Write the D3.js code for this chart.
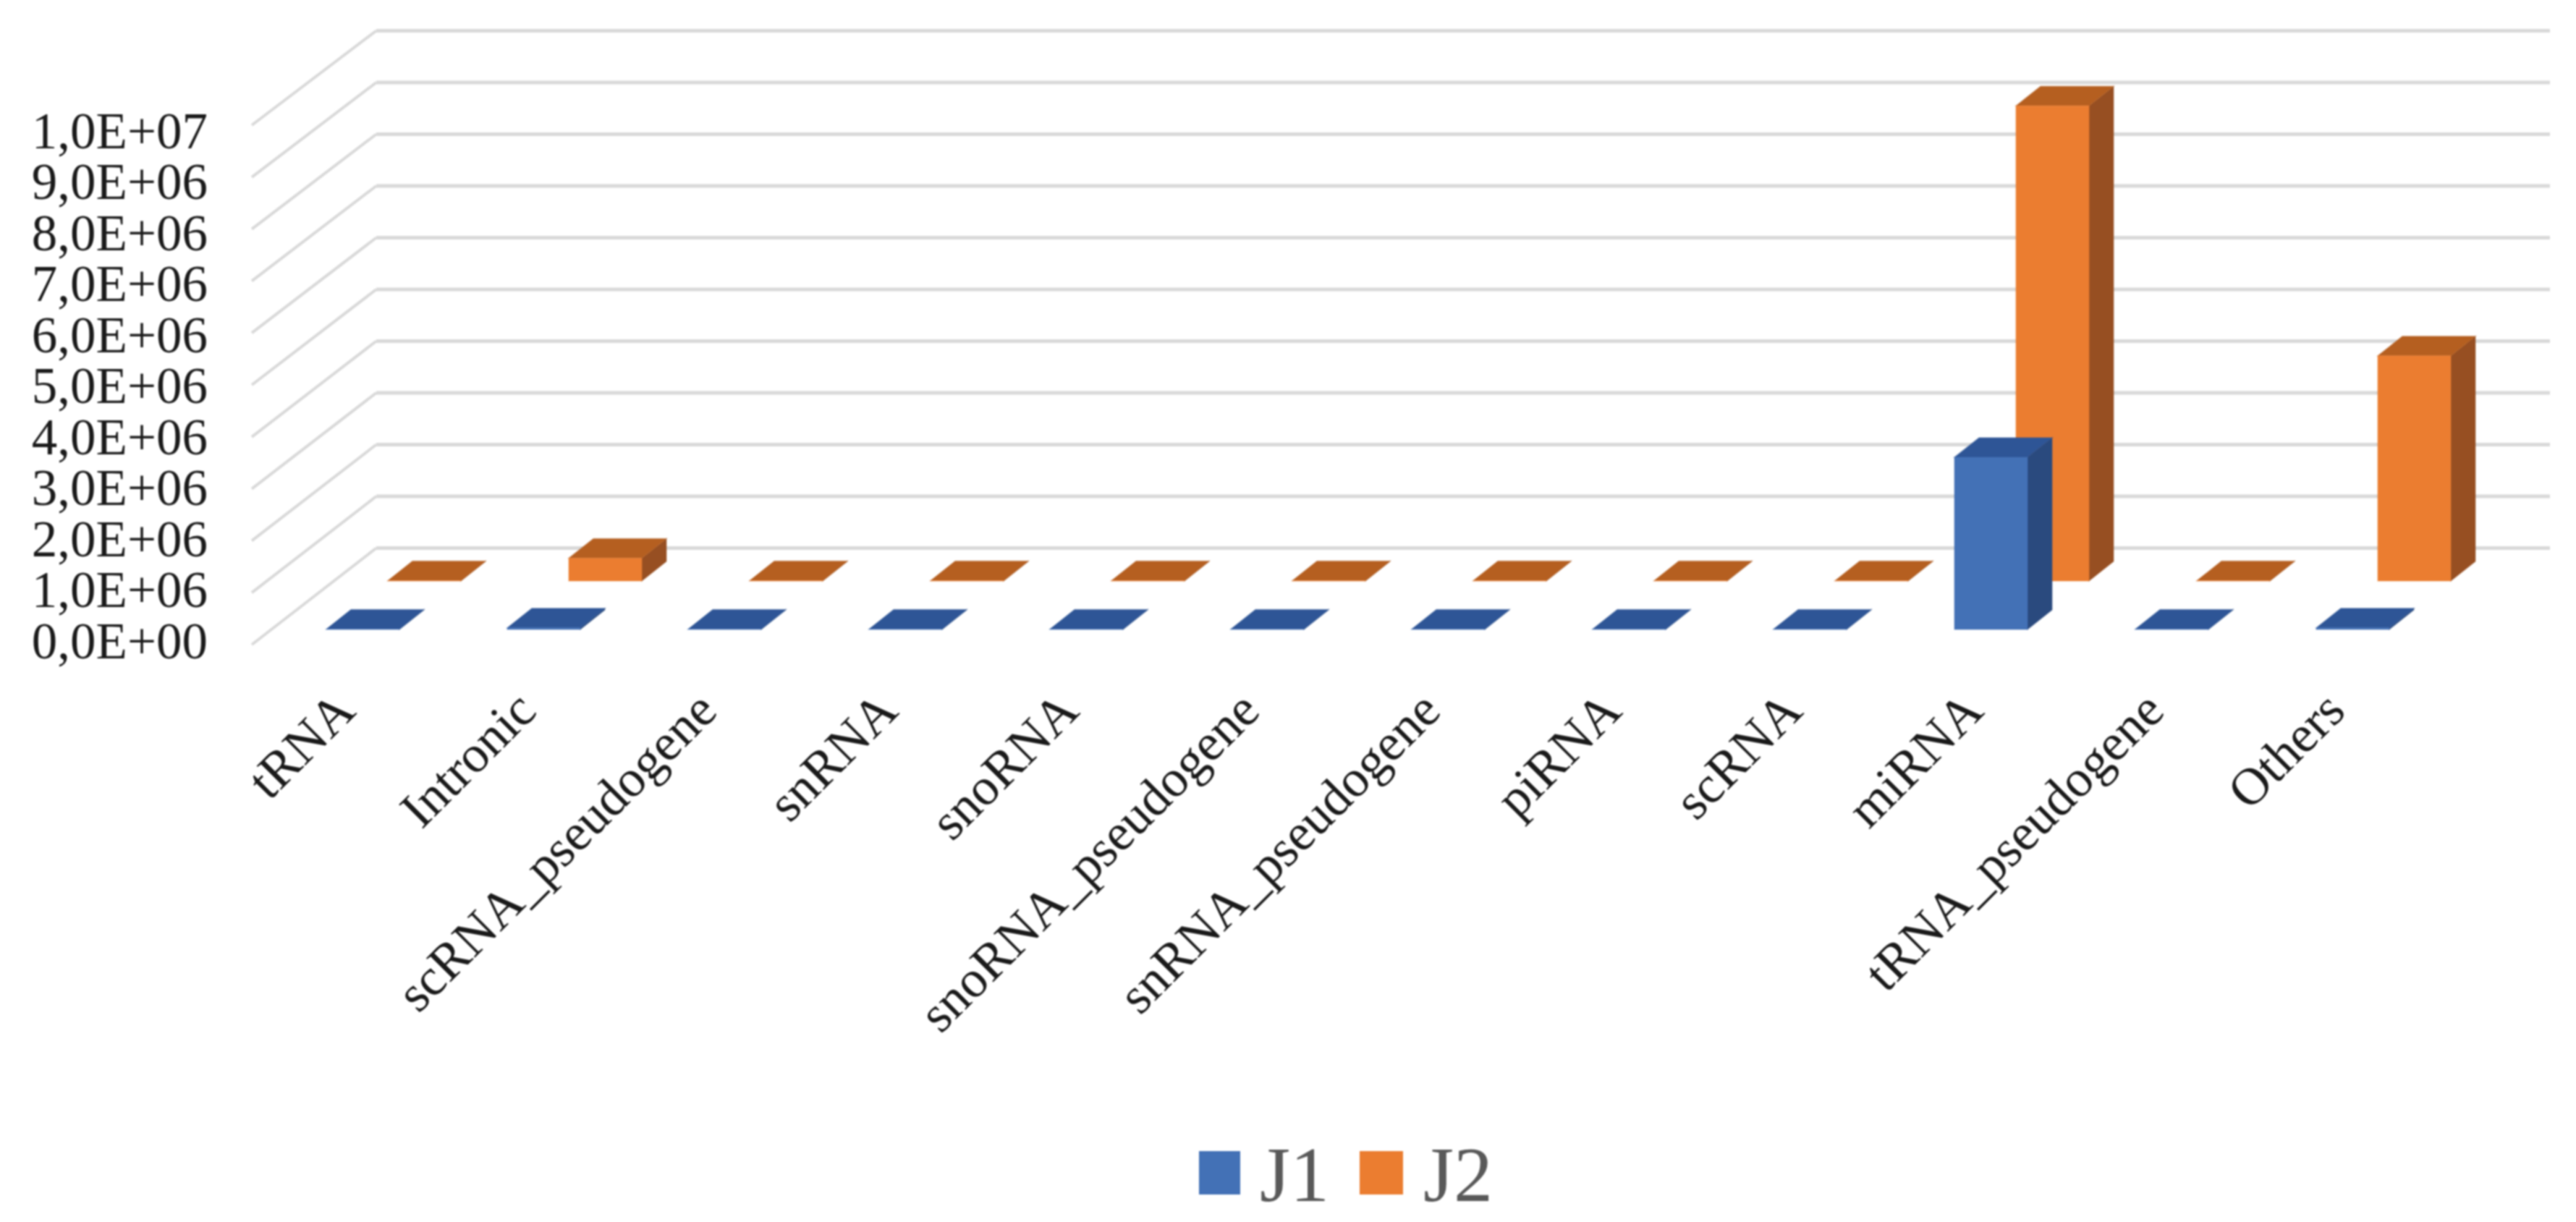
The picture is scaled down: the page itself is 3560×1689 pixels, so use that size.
<!DOCTYPE html>
<html><head><meta charset="utf-8">
<script src="https://cdn.jsdelivr.net/npm/d3@7/dist/d3.min.js"></script>
<style>html,body{margin:0;padding:0;background:#fff}svg{display:block;filter:blur(0.9px)}text{font-family:"Liberation Serif",serif}</style>
</head><body><svg id="c" width="3560" height="1689"></svg>
<script>
const categories = ["tRNA","Intronic","scRNA_pseudogene","snRNA","snoRNA","snoRNA_pseudogene","snRNA_pseudogene","piRNA","scRNA","miRNA","tRNA_pseudogene","Others"];
const seriesNames = ["J1","J2"];
const valuesJ1 = [6000,30000,6000,6000,6000,6000,6000,6000,6000,3320000,6000,30000];
const valuesJ2 = [6000,440000,6000,6000,6000,6000,6000,6000,6000,9160000,6000,4340000];
const tickValues = [0,1e6,2e6,3e6,4e6,5e6,6e6,7e6,8e6,9e6,1e7];
const tickLabels = ["0,0E+00","1,0E+06","2,0E+06","3,0E+06","4,0E+06","5,0E+06","6,0E+06","7,0E+06","8,0E+06","9,0E+06","1,0E+07"];

const svg = d3.select("#c");
const colors = {J1:{front:"#4371B6",top:"#2E5596",side:"#2A4A7E"},J2:{front:"#EB7D30",top:"#B55F20",side:"#974F22"}};

// Scales
const x = d3.scaleBand(categories,[419,3419]);
const seriesX = d3.scaleOrdinal(seriesNames,[32,117]);
const barW = 101, depthX = 34, depthY = 27;
const h = d3.scaleLinear([0,1e7],[0,717]);
const base = d3.scaleOrdinal(seriesNames,[870,803]);
const yFront = d3.scaleLinear([0,1e7],[891,173]);
const yBack  = d3.scaleLinear([0,1e7],[757.5,42.5]);
const yLabel = d3.scaleLinear([0,1e7],[886,181]);
const frontX = 348, backX = 520, rightX = 3524;

// Walls
const walls = svg.append("g").attr("fill","none").attr("stroke","#d9d9d9");
walls.selectAll("path.back").data(tickValues).join("path").attr("class","back")
  .attr("stroke-width",5)
  .attr("d",v=>`M${backX},${yBack(v)}H${rightX}`);
walls.selectAll("path.side").data(tickValues).join("path").attr("class","side")
  .attr("stroke-width",4)
  .attr("d",v=>`M${frontX},${yFront(v)}L${backX},${yBack(v)}`);

// Bars: back row first
const rows = [["J2",valuesJ2],["J1",valuesJ1]];
rows.forEach(([s,vals])=>{
  const g = svg.append("g").attr("class","series-"+s);
  categories.forEach((c,i)=>{
    const x0 = x(c)+seriesX(s), x1 = x0+barW, yb = base(s), yt = yb-h(vals[i]);
    const col = colors[s];
    const bar = g.append("g").attr("stroke-width",1.5).attr("stroke-opacity",.35);
    bar.append("path").attr("fill",col.side).attr("stroke",col.side)
      .attr("d",`M${x1},${yt}L${x1+depthX},${yt-depthY}V${yb-depthY}L${x1},${yb}Z`);
    bar.append("path").attr("fill",col.top).attr("stroke",col.top)
      .attr("d",`M${x0},${yt}L${x0+depthX},${yt-depthY}H${x1+depthX}L${x1},${yt}Z`);
    bar.append("path").attr("fill",col.front).attr("stroke",col.front)
      .attr("d",`M${x0},${yt}H${x1}V${yb}H${x0}Z`);
  });
});

// Value axis
const yAxis = d3.axisLeft(yLabel).tickValues(tickValues).tickSize(0)
  .tickFormat((d,i)=>tickLabels[i]);
const ga = svg.append("g").attr("transform","translate(287,0)").call(yAxis);
ga.select(".domain").remove();
ga.selectAll("text").attr("x",0).attr("dy","0.33em").attr("text-anchor","end")
  .style("font-family",'"Liberation Serif",serif').style("font-size","71px").attr("fill","#1a1a1a");

// Category axis
const xAxis = d3.axisBottom(x).tickSize(0);
const gx = svg.append("g").attr("transform","translate(0,960)").call(xAxis);
gx.select(".domain").remove();
gx.selectAll("text")
  .attr("y",0).attr("dy",0).attr("text-anchor","end")
  .attr("transform","translate(-50,26) rotate(-45)")
  .style("font-family",'"Liberation Serif",serif').style("font-size","72px").attr("fill","#1a1a1a");

// Legend
const legX = d3.scaleOrdinal(seriesNames,[1657,1879]);
const leg = svg.append("g");
seriesNames.forEach(s=>{
  leg.append("rect").attr("x",legX(s)).attr("y",1591).attr("width",s==="J1"?57:60).attr("height",60).attr("fill",colors[s].front);
  leg.append("text").attr("x",legX(s)+(s==="J1"?84:88)).attr("y",1660).attr("fill","#595959")
    .style("font-size","108px").text(s);
});
</script></body></html>
